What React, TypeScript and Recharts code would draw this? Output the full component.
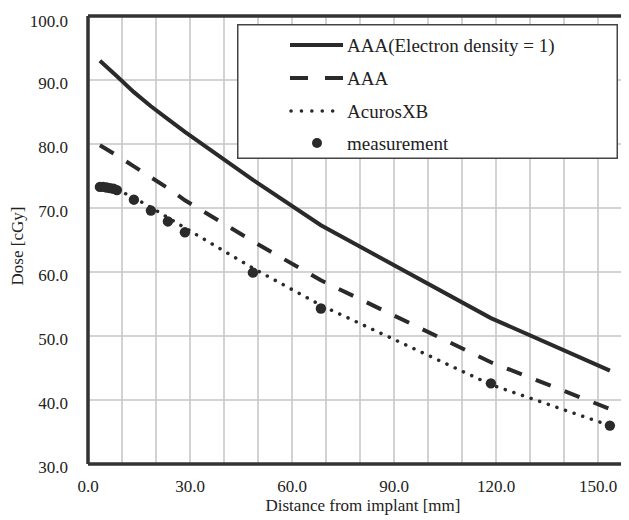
import React from 'react';
import {
  ComposedChart,
  Line,
  Scatter,
  XAxis,
  YAxis,
  CartesianGrid,
  ReferenceLine,
  Legend,
} from 'recharts';

const INK = '#2a2a2a';
const GRID_COLOR = '#c4c4c8';
const FONT = "'Liberation Serif', 'Times New Roman', serif";

// grid every 10 mm, labels every 30 mm
const xGridTicks = [0, 10, 20, 30, 40, 50, 60, 70, 80, 90, 100, 110, 120, 130, 140, 150, 160];
const yTicks = [30, 40, 50, 60, 70, 80, 90, 100];

// calculated dose profiles [cGy] vs distance from implant [mm]
const modelDistance = [3.5, 8.5, 13.5, 18.5, 23.5, 28.5, 48.5, 68.5, 118.5, 153.5];
const aaaUnitDensity = [93.0, 90.6, 88.1, 85.9, 83.9, 81.9, 74.4, 67.3, 52.8, 44.6];
const aaaDose = [79.8, 78.2, 76.5, 74.8, 73.1, 71.2, 64.8, 58.7, 45.9, 38.6];
const acurosXB = [73.6, 72.9, 71.6, 70.1, 68.5, 66.9, 60.6, 54.8, 42.4, 36.0];

// measured points
const measDistance = [3.5, 4.5, 5.5, 6.5, 7.5, 8.5, 13.5, 18.5, 23.5, 28.5, 48.5, 68.5, 118.5, 153.5];
const measDose = [73.3, 73.3, 73.2, 73.1, 73.0, 72.8, 71.3, 69.6, 67.9, 66.2, 59.9, 54.3, 42.6, 36.0];

const toPoints = (xs: number[], ys: number[]) => xs.map((x, i) => ({ x, y: ys[i] }));

const legendRows = ['AAA(Electron density = 1)', 'AAA', 'AcurosXB', 'measurement'];

const LegendBox = () => {
  const rowY = [21, 54, 87, 119];
  return (
    <svg width={381} height={135} style={{ display: 'block' }}>
      <rect x={0.75} y={0.75} width={379.5} height={133.5} fill="#fff" stroke="#444" strokeWidth={1.5} />
      <line x1={53} x2={106} y1={rowY[0]} y2={rowY[0]} stroke={INK} strokeWidth={4} />
      <line x1={53} x2={106} y1={rowY[1]} y2={rowY[1]} stroke={INK} strokeWidth={4} strokeDasharray="18 17" />
      <line x1={54} x2={106} y1={rowY[2]} y2={rowY[2]} stroke={INK} strokeWidth={3.5} strokeDasharray="0.1 10.3" strokeLinecap="round" />
      <circle cx={80} cy={rowY[3]} r={5} fill={INK} />
      {legendRows.map((name, i) => (
        <text key={name} x={110} y={rowY[i] + 6.5} fontSize={19} fill="#222" fontFamily={FONT}>
          {name}
        </text>
      ))}
    </svg>
  );
};

const YTitle = () => (
  <text x={9} y={238} transform="rotate(-90 9 238)" textAnchor="middle" fontSize={17} fill="#222" dominantBaseline="central">
    Dose [cGy]
  </text>
);

const XTitle = () => (
  <text x={355} y={503} textAnchor="middle" fontSize={17} fill="#222">
    Distance from implant [mm]
  </text>
);

export default function App() {
  return (
    <div style={{ width: 621, height: 512, overflow: 'hidden', position: 'relative', fontFamily: FONT }}>
      <ComposedChart width={640} height={512} margin={{ top: 8, right: 16, bottom: 0, left: 0 }}>
        <CartesianGrid stroke={GRID_COLOR} strokeWidth={1.5} />
        <XAxis
          dataKey="x"
          type="number"
          domain={[0, 160]}
          ticks={xGridTicks}
          tickFormatter={(v: number) => (v % 30 === 0 ? v.toFixed(1) : '')}
          tick={{ fontSize: 17, fill: '#222' }}
          tickLine={false}
          tickSize={6}
          tickMargin={10}
          axisLine={{ stroke: '#333', strokeWidth: 3.5 }}
          height={56}
          allowDataOverflow
          label={() => <XTitle />}
        />
        <YAxis
          type="number"
          domain={[30, 100]}
          ticks={yTicks}
          tickFormatter={(v: number) => v.toFixed(1)}
          tick={{ fontSize: 17, fill: '#222', dy: 3 }}
          tickLine={false}
          tickSize={6}
          tickMargin={14}
          axisLine={{ stroke: '#333', strokeWidth: 3.5 }}
          width={80}
          label={() => <YTitle />}
        />
        <ReferenceLine y={100} stroke="#333" strokeWidth={3.5} />
        <Line
          data={toPoints(modelDistance, aaaUnitDensity)}
          dataKey="y"
          stroke={INK}
          strokeWidth={4}
          dot={false}
          isAnimationActive={false}
        />
        <Line
          data={toPoints(modelDistance, aaaDose)}
          dataKey="y"
          stroke={INK}
          strokeWidth={4}
          strokeDasharray="16 15"
          dot={false}
          isAnimationActive={false}
        />
        <Line
          data={toPoints(modelDistance, acurosXB)}
          dataKey="y"
          stroke={INK}
          strokeWidth={3.5}
          strokeDasharray="0.1 9"
          strokeLinecap="round"
          dot={false}
          isAnimationActive={false}
        />
        <Scatter
          data={toPoints(measDistance, measDose)}
          dataKey="y"
          fill={INK}
          isAnimationActive={false}
          shape={(p: any) => <circle cx={p.cx} cy={p.cy} r={5.2} fill={INK} />}
        />
        <Legend
          layout="horizontal"
          verticalAlign="middle"
          align="center"
          wrapperStyle={{ left: 229, top: 16, width: 381, height: 135 }}
          content={() => <LegendBox />}
        />
      </ComposedChart>
    </div>
  );
}
